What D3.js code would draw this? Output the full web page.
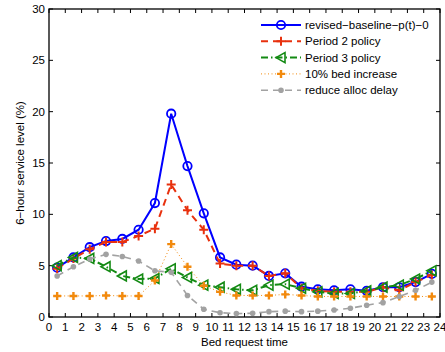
<!DOCTYPE html>
<html>
<head>
<meta charset="utf-8">
<script src="https://cdn.jsdelivr.net/npm/d3@7"></script>
<style>
  body { margin: 0; background: #fff; }
  svg text { font-family: "Liberation Sans", Arial, sans-serif; fill: #000; }
</style>
</head>
<body>
<div id="chart"></div>
<script>
// Hour slots (bed request time, mid-hour)
var hours = [0.5, 1.5, 2.5, 3.5, 4.5, 5.5, 6.5, 7.5, 8.5, 9.5, 10.5, 11.5,
             12.5, 13.5, 14.5, 15.5, 16.5, 17.5, 18.5, 19.5, 20.5, 21.5, 22.5, 23.5];

var baseline = [4.8, 5.8, 6.8, 7.4, 7.6, 8.5, 11.1, 19.8, 14.7, 10.1, 5.8, 5.1,
                5.0, 4.0, 4.25, 2.95, 2.7, 2.6, 2.7, 2.55, 2.9, 2.9, 3.4, 4.2];
var period2 = [4.7, 5.7, 6.6, 7.3, 7.3, 7.9, 8.6, 12.9, 10.4, 8.5, 5.2, 5.0,
               5.0, 4.0, 4.25, 2.8, 2.55, 2.45, 2.45, 2.45, 2.9, 2.6, 3.4, 4.1];
var period3 = [5.0, 5.8, 5.7, 4.9, 4.0, 3.7, 3.75, 4.7, 3.85, 3.1, 2.9, 2.7,
               2.6, 3.1, 3.2, 2.8, 2.45, 2.3, 2.3, 2.55, 2.9, 3.1, 3.7, 4.5];
var bedIncrease = [2.05, 2.05, 2.05, 2.1, 2.05, 2.05, 3.55, 7.1, 4.9, 3.05, 2.45, 2.1,
                   2.1, 2.1, 2.2, 2.1, 2.0, 2.0, 2.0, 2.0, 2.0, 2.0, 2.0, 2.0];
var allocDelay = [4.0, 4.9, 5.65, 6.1, 5.9, 5.45, 4.5, 4.35, 2.1, 0.75, 0.42, 0.33,
                  0.36, 0.52, 0.57, 0.52, 0.57, 0.68, 0.85, 1.15, 1.4, 2.0, 2.6, 3.4];

var seriesNames = ["revised\u2212baseline\u2212p(t)\u22120", "Period 2 policy", "Period 3 policy",
                   "10% bed increase", "reduce alloc delay"];
var xTicks = d3.range(0, 25);
var yTicks = [0, 5, 10, 15, 20, 25, 30];

var w = 445, h = 352;
var margin = {left: 49, right: 5, top: 9, bottom: 35};

var svg = d3.select('#chart').append('svg')
    .attr('width', w)
    .attr('height', h);

var x = d3.scaleLinear().domain([0, 24]).range([margin.left, w - margin.right]);
var y = d3.scaleLinear().domain([0, 30]).range([h - margin.bottom, margin.top]);

var styles = [
    {color: '#0000ff', width: 2, dash: null, marker: 'circle'},
    {color: '#e8310e', width: 2, dash: '7,5', marker: 'plus'},
    {color: '#138a13', width: 2, dash: '7,3,1.5,3', marker: 'triangle'},
    {color: '#f28a0e', width: 1, dash: '1,2.5', marker: 'star'},
    {color: '#a2a2a2', width: 1.6, dash: '7,5', marker: 'dot'}
];
var allSeries = [baseline, period2, period3, bedIncrease, allocDelay];

function drawMarker(g, type, color) {
    if (type == 'circle') {
        g.append('circle').attr('r', 4.2).attr('fill', 'none')
            .attr('stroke', color).attr('stroke-width', 1.8);
    } else if (type == 'plus') {
        g.append('path').attr('d', 'M-4.5,0H4.5M0,-4.5V4.5')
            .attr('stroke', color).attr('stroke-width', 2);
    } else if (type == 'triangle') {
        g.append('path').attr('d', 'M-5,0L4,-5L4,5Z').attr('fill', 'none')
            .attr('stroke', color).attr('stroke-width', 1.6);
    } else if (type == 'star') {
        g.append('path').attr('d', 'M-4,0H4M0,-4V4')
            .attr('stroke', color).attr('stroke-width', 2.4);
        g.append('path').attr('d', 'M-2,0L0,-2L2,0L0,2Z').attr('fill', color);
    } else {
        g.append('circle').attr('r', 2.8).attr('fill', color);
    }
}

// axes box
var plot = svg.append('g');
plot.append('rect')
    .attr('x', x(0)).attr('y', y(30))
    .attr('width', x(24) - x(0)).attr('height', y(0) - y(30))
    .attr('fill', 'none').attr('stroke', '#000').attr('stroke-width', 1.3);

// inward ticks on all four sides
var tickLen = 4;
xTicks.forEach(function (t) {
    plot.append('line').attr('x1', x(t)).attr('x2', x(t))
        .attr('y1', y(0)).attr('y2', y(0) - tickLen).attr('stroke', '#000');
    plot.append('line').attr('x1', x(t)).attr('x2', x(t))
        .attr('y1', y(30)).attr('y2', y(30) + tickLen).attr('stroke', '#000');
    plot.append('text').attr('x', x(t)).attr('y', y(0) + 14)
        .attr('text-anchor', 'middle').attr('font-size', 11.5).text(t);
});
yTicks.forEach(function (t) {
    plot.append('line').attr('x1', x(0)).attr('x2', x(0) + tickLen)
        .attr('y1', y(t)).attr('y2', y(t)).attr('stroke', '#000');
    plot.append('line').attr('x1', x(24)).attr('x2', x(24) - tickLen)
        .attr('y1', y(t)).attr('y2', y(t)).attr('stroke', '#000');
    plot.append('text').attr('x', x(0) - 4).attr('y', y(t) + 4)
        .attr('text-anchor', 'end').attr('font-size', 11.5).text(t);
});

// series
var line = d3.line().x(function (d) { return x(d[0]); }).y(function (d) { return y(d[1]); });
allSeries.forEach(function (vals, i) {
    var st = styles[i];
    var pts = hours.map(function (hr, j) { return [hr, vals[j]]; });
    svg.append('path').datum(pts)
        .attr('d', line)
        .attr('fill', 'none')
        .attr('stroke', st.color)
        .attr('stroke-width', st.width)
        .attr('stroke-dasharray', st.dash);
    pts.forEach(function (p) {
        var g = svg.append('g').attr('transform', 'translate(' + x(p[0]) + ',' + y(p[1]) + ')');
        drawMarker(g, st.marker, st.color);
    });
});

// legend
var legend = svg.append('g');
seriesNames.forEach(function (name, i) {
    var st = styles[i];
    var ly = 25 + i * 16.3;
    legend.append('line').attr('x1', 261).attr('x2', 301)
        .attr('y1', ly).attr('y2', ly)
        .attr('stroke', st.color).attr('stroke-width', st.width)
        .attr('stroke-dasharray', st.dash);
    var g = legend.append('g').attr('transform', 'translate(281,' + ly + ')');
    drawMarker(g, st.marker, st.color);
    legend.append('text').attr('x', 305).attr('y', ly + 4)
        .attr('font-size', 11.5).text(name);
});

// axis labels
svg.append('text').attr('x', (x(0) + x(24)) / 2).attr('y', 346)
    .attr('text-anchor', 'middle').attr('font-size', 11.5).text('Bed request time');
svg.append('text')
    .attr('transform', 'translate(24,' + ((y(0) + y(30)) / 2) + ') rotate(-90)')
    .attr('text-anchor', 'middle').attr('font-size', 11.5)
    .text('6\u2212hour service level (%)');
</script>
</body>
</html>
